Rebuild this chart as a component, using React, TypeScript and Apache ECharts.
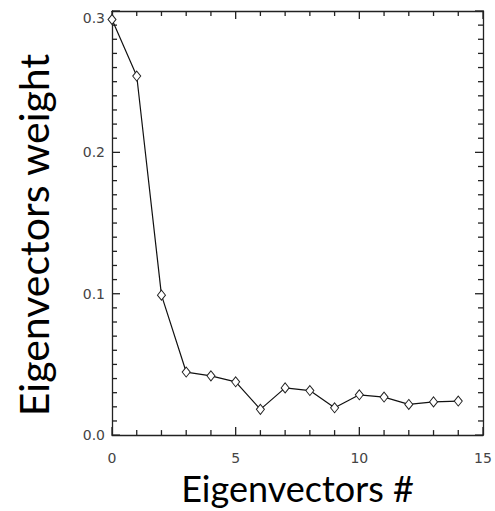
import React, { useEffect, useRef } from "react";
import * as echarts from "echarts";

const xValues = [0, 1, 2, 3, 4, 5, 6, 7, 8, 9, 10, 11, 12, 13, 14];
const weights = [0.294, 0.254, 0.099, 0.0446, 0.0419, 0.0377, 0.0182, 0.0334, 0.0315, 0.0193, 0.0285, 0.0269, 0.0217, 0.0235, 0.0241];
const xTitle = "Eigenvectors #";
const yTitle = "Eigenvectors weight";

// tick positions (major ticks carry labels)
const xTicks = [0, 1, 2, 3, 4, 5, 6, 7, 8, 9, 10, 11, 12, 13, 14, 15];
const xMajorTicks = [0, 5, 10, 15];
const yTicks = [
  0, 0.01, 0.02, 0.03, 0.04, 0.05, 0.06, 0.07, 0.08, 0.09,
  0.1, 0.11, 0.12, 0.13, 0.14, 0.15, 0.16, 0.17, 0.18, 0.19,
  0.2, 0.21, 0.22, 0.23, 0.24, 0.25, 0.26, 0.27, 0.28, 0.29, 0.3,
];
const yMajorTicks = [0, 0.1, 0.2, 0.3];

const X_MIN = 0, X_MAX = 15, Y_MIN = 0, Y_MAX = 0.3;
const axisColor = "#222";
const tickColor = "#222";
const MAJOR_LEN = 8;
const MINOR_LEN = 5;

function ls() {
  return { color: axisColor, width: 1.3 };
}

function commonAxis() {
  return {
    type: "value",
    axisLine: { show: true, onZero: false, lineStyle: ls() },
    axisTick: { show: false },
    minorTick: { show: false },
    splitLine: { show: false },
    minorSplitLine: { show: false },
  };
}

export default function App() {
  const ref = useRef<HTMLDivElement>(null);
  useEffect(() => {
    if (!ref.current) return;
    const chart = echarts.init(ref.current, null, { renderer: "svg" });

    const isMajor = (list: number[], v: number) => list.some((m) => Math.abs(m - v) < 1e-9);
    const tickData = [
      ...xTicks.map((v) => [v, Y_MIN, 0, isMajor(xMajorTicks, v) ? 1 : 0]),
      ...yTicks.map((v) => [X_MIN, v, 1, isMajor(yMajorTicks, v) ? 1 : 0]),
    ];

    const renderTick = (_params: any, api: any) => {
      const kind = api.value(2);
      const major = api.value(3) === 1;
      const len = major ? MAJOR_LEN : MINOR_LEN;
      const style = { stroke: tickColor, lineWidth: 1.3 };
      if (kind === 0) {
        const v = api.value(0);
        const b = api.coord([v, Y_MIN]);
        const t = api.coord([v, Y_MAX]);
        return {
          type: "group",
          children: [
            { type: "line", shape: { x1: b[0], y1: b[1], x2: b[0], y2: b[1] - len }, style },
            { type: "line", shape: { x1: t[0], y1: t[1], x2: t[0], y2: t[1] + len }, style },
          ],
        };
      }
      const v = api.value(1);
      const l = api.coord([X_MIN, v]);
      const r = api.coord([X_MAX, v]);
      return {
        type: "group",
        children: [
          { type: "line", shape: { x1: l[0], y1: l[1], x2: l[0] + len, y2: l[1] }, style },
          { type: "line", shape: { x1: r[0], y1: r[1], x2: r[0] - len, y2: r[1] }, style },
        ],
      };
    };

    chart.setOption({
      animation: false,
      backgroundColor: "#fff",
      grid: { left: 112, top: 11, right: 12, bottom: 65 },
      xAxis: [
        {
          ...commonAxis(),
          position: "bottom",
          min: X_MIN,
          max: X_MAX,
          interval: 5,
          axisLabel: { fontFamily: "DejaVu Sans", fontSize: 14, color: "#444", margin: 16 },
          name: xTitle,
          nameLocation: "middle",
          nameGap: 24,
          nameTextStyle: { fontFamily: "Lato", fontSize: 36, color: "#000" },
        },
        {
          ...commonAxis(),
          position: "top",
          min: X_MIN,
          max: X_MAX,
          interval: 5,
          axisLabel: { show: false },
        },
      ],
      yAxis: [
        {
          ...commonAxis(),
          position: "left",
          min: Y_MIN,
          max: Y_MAX,
          interval: 0.1,
          axisLabel: {
            fontFamily: "DejaVu Sans",
            fontSize: 14,
            color: "#444",
            margin: 7,
            formatter: (v: number) => v.toFixed(1),
            verticalAlignMaxLabel: "top",
          },
          name: yTitle,
          nameLocation: "middle",
          nameGap: 58,
          nameTextStyle: { fontFamily: "Lato", fontSize: 41, color: "#000", padding: [0, 24, 0, 0] },
        },
        {
          ...commonAxis(),
          position: "right",
          min: Y_MIN,
          max: Y_MAX,
          interval: 0.1,
          axisLabel: { show: false },
        },
      ],
      series: [
        {
          type: "custom",
          xAxisIndex: 0,
          yAxisIndex: 0,
          silent: true,
          clip: false,
          data: tickData,
          renderItem: renderTick,
          z: 1,
        },
        {
          type: "line",
          xAxisIndex: 0,
          yAxisIndex: 0,
          data: xValues.map((x, i) => [x, weights[i]]),
          symbol: "diamond",
          symbolSize: [8, 10],
          showSymbol: true,
          lineStyle: { color: "#111", width: 1.2 },
          itemStyle: { color: "#fff", borderColor: "#222", borderWidth: 1 },
          z: 3,
        },
      ],
    });
    return () => chart.dispose();
  }, []);
  return (
    <div
      ref={ref}
      style={{ position: "absolute", left: 0, top: 0, width: 495, height: 511 }}
    />
  );
}
